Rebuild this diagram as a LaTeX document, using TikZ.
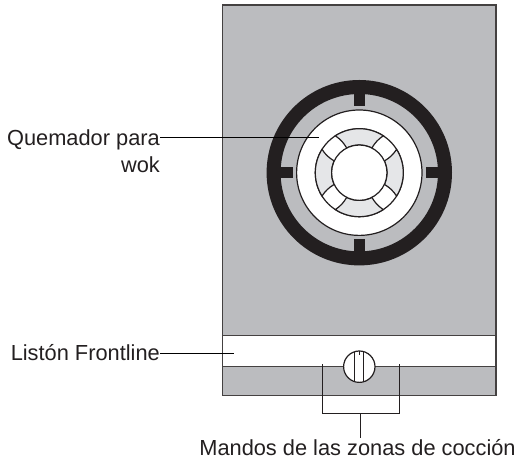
\documentclass[tikz,border=0pt]{standalone}
\usepackage{fontspec}
\usetikzlibrary{calc}
\setmainfont{Liberation Sans}
\definecolor{panelgray}{HTML}{BBBCBF}
\definecolor{seggray}{HTML}{E5E6E8}
\definecolor{ringblack}{HTML}{231F20}
\begin{document}
\begin{tikzpicture}[x=1pt,y=1pt,
  panel line/.style={draw=ringblack!85,line width=1.1pt},
  thin line/.style={draw=ringblack,line width=1.2pt},
  leader/.style={draw=black,line width=1.5pt},
  label node/.style={font=\fontsize{21.8}{26}\selectfont,text=ringblack,inner sep=0pt}]

  \useasboundingbox (0,0) rectangle (523,463);

  % panel and strip
  \path[panel line,fill=panelgray] (222.5,67.5) rectangle (496,458);
  \path[panel line,fill=white] (222.5,96.7) rectangle (496,127.5);

  % burner
  \coordinate (c) at (359.3,290.3);
  \draw[ringblack,line width=14pt] (c) circle (85.7);
  \foreach \a in {0,90,180,270}
    \draw[ringblack,line width=11pt] (c) ++(\a:66.7) -- ++(\a:14);
  \path[thin line,fill=white] (c) circle (62.7);
  \path[thin line,fill=white] (c) circle (44);
  \foreach \m/\w/\v in {90/33/27,270/33/27,0/32/25,180/32/25}
    \path[thin line,fill=seggray] (c) ++(\m-\w:44) arc[start angle=\m-\w,end angle=\m+\w,radius=44]
      to[bend left=12] ($(c)+(\m+\v:27.7)$)
      arc[start angle=\m+\v,end angle=\m-\v,radius=27.7]
      to[bend left=12] cycle;
  \path[thin line,fill=white] (c) circle (27.7);

  % knob
  \coordinate (k) at (359.3,96.3);
  \path[thin line,fill=white] (k) circle (15.7);
  \draw[ringblack,line width=0.9pt] (354.3,81.4) -- (354.3,111.2);
  \draw[ringblack,line width=0.9pt] (363.7,81.4) -- (363.7,111.2);
  \draw[ringblack,line width=0.9pt] (359.5,112) -- (359.5,108);

  % labels
  \node[label node,anchor=base east] (wok1) at (160,317.5) {Quemador para};
  \node[label node,anchor=base east] (wok2) at (160,290.7) {wok};
  \node[label node,anchor=base east] (strip) at (160,102) {Listón Frontline};
  \node[label node,anchor=base] (mandos) at (357.5,7) {Mandos de las zonas de cocción};

  \coordinate (wokend) at (319,325.3);
  \coordinate (stripend) at (234,109.3);
  \coordinate (brl) at (322.7,98.7);
  \coordinate (brr) at (399.3,98.7);
  \coordinate (brmid) at (360.3,49.7);
  \coordinate (stem) at (360.3,24.7);

  \draw[leader] (wok1.east |- wokend) -- (wokend);
  \draw[leader] (strip.east |- stripend) -- (stripend);
  \draw[ringblack,line width=1.1pt] (brl) |- (brmid) -| (brr);
  \draw[ringblack,line width=1.1pt] (brmid) -- (stem);
\end{tikzpicture}
\end{document}
